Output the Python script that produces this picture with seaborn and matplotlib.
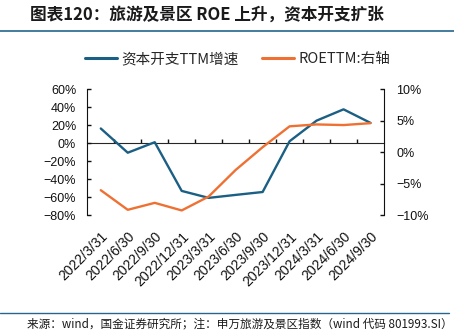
import numpy as np
import pandas as pd
import matplotlib
matplotlib.use("Agg")
import matplotlib.pyplot as plt
from matplotlib.lines import Line2D
from matplotlib.ticker import FuncFormatter, NullFormatter
import seaborn as sns

# ---------------- data ----------------
dates = ["2022/3/31", "2022/6/30", "2022/9/30", "2022/12/31", "2023/3/31",
         "2023/6/30", "2023/9/30", "2023/12/31", "2024/3/31", "2024/6/30",
         "2024/9/30"]
capex_growth = [16.3, -10.5, 1.1, -52.8, -60.5, -57.2, -54.0, 2.2, 25.0, 37.5, 22.5]   # %, left axis
roe_ttm = [-6.0, -9.1, -8.0, -9.2, -7.0, -2.8, 0.8, 4.1, 4.4, 4.3, 4.6]              # %, right axis
left_ticks = [60, 40, 20, 0, -20, -40, -60, -80]
right_ticks = [10, 5, 0, -5, -10]
series_names = ["资本开支TTM增速", "ROETTM:右轴"]
title = "图表120：旅游及景区 ROE 上升，资本开支扩张"
source = "来源：wind，国金证券研究所；注：申万旅游及景区指数（wind 代码 801993.SI）"

BLUE = "#1b5f84"
ORANGE = "#ee7133"
CJK = ["Noto Sans CJK SC", "DejaVu Sans"]

sns.set_style("ticks")
plt.rcParams["font.family"] = ["Liberation Sans", "Noto Sans CJK SC", "DejaVu Sans"]
plt.rcParams["axes.unicode_minus"] = True

df = pd.DataFrame({"x": np.arange(len(dates)), "capex": capex_growth, "roe": roe_ttm})

fig = plt.figure(figsize=(4.54, 3.34), dpi=100)
ax = fig.add_axes([0.1923, 0.3548, 0.6535, 0.3787])
sns.lineplot(data=df, x="x", y="capex", ax=ax, color=BLUE, lw=1.7, legend=False)
ax2 = ax.twinx()
sns.lineplot(data=df, x="x", y="roe", ax=ax2, color=ORANGE, lw=1.7, legend=False)

ax.set_xlim(-0.5, len(dates) - 0.5)
ax.set_ylim(-80, 60)
ax2.set_ylim(-10, 10)
ax.set_xlabel("")
ax.set_ylabel("")
ax2.set_ylabel("")

pct = FuncFormatter(lambda v, p: f"{int(round(v))}%".replace("-", "\u2212"))

# left axis
ax.set_yticks(left_ticks)
ax.yaxis.set_major_formatter(pct)
ax.tick_params(axis="y", direction="in", length=3, width=1, labelsize=9, pad=8, colors="#111111")
for s in ["top", "right", "bottom"]:
    ax.spines[s].set_visible(False)
ax.spines["left"].set_color("#111111")

# right axis
ax2.set_yticks(right_ticks)
ax2.yaxis.set_major_formatter(pct)
ax2.tick_params(axis="y", direction="in", length=3, width=1, labelsize=9, pad=9, colors="#111111")
for s in ["top", "left", "bottom"]:
    ax2.spines[s].set_visible(False)
ax2.spines["right"].set_color("#111111")

# x labels at bottom
ax.set_xticks(df["x"])
ax.set_xticklabels(dates, rotation=45, ha="right", va="top", rotation_mode="anchor")
ax.tick_params(axis="x", length=0, pad=10, labelsize=10, colors="#111111")

# zero line with category-boundary ticks
sec = ax.secondary_xaxis(80 / 140)
sec.set_xticks(np.arange(0.5, len(dates) - 1, 1.0))
sec.xaxis.set_major_formatter(NullFormatter())
sec.tick_params(axis="x", direction="out", length=3, width=1, colors="#111111",
                labelbottom=False, labeltop=False)
sec.spines["bottom"].set_color("#111111")
sec.spines["bottom"].set_linewidth(1)

# legend
handles = [Line2D([], [], color=BLUE, lw=2.2), Line2D([], [], color=ORANGE, lw=2.2)]
fig.legend(handles, series_names, loc="center", bbox_to_anchor=(0.523, 0.823), ncol=2,
           frameon=False, handlelength=2.2, handletextpad=0.3, columnspacing=1.6,
           prop={"family": CJK, "size": 10.5})

# title, rules, source
fig.text(30 / 454, 1 - 15 / 334, title, fontsize=12, fontweight="bold", family=CJK,
         ha="left", va="center", color="#1a1a1a")
fig.add_artist(Line2D([0, 1], [1 - 30.5 / 334] * 2, transform=fig.transFigure,
                      color="#24668e", lw=1.2))
fig.add_artist(Line2D([0, 0.99], [1 - 312.5 / 334] * 2, transform=fig.transFigure,
                      color="#24668e", lw=1.0))
fig.text(27 / 454, 1 - 324 / 334, source, fontsize=8.4, family=CJK, ha="left", va="center",
         color="#1a1a1a")

fig.savefig("out.png", dpi=100)
